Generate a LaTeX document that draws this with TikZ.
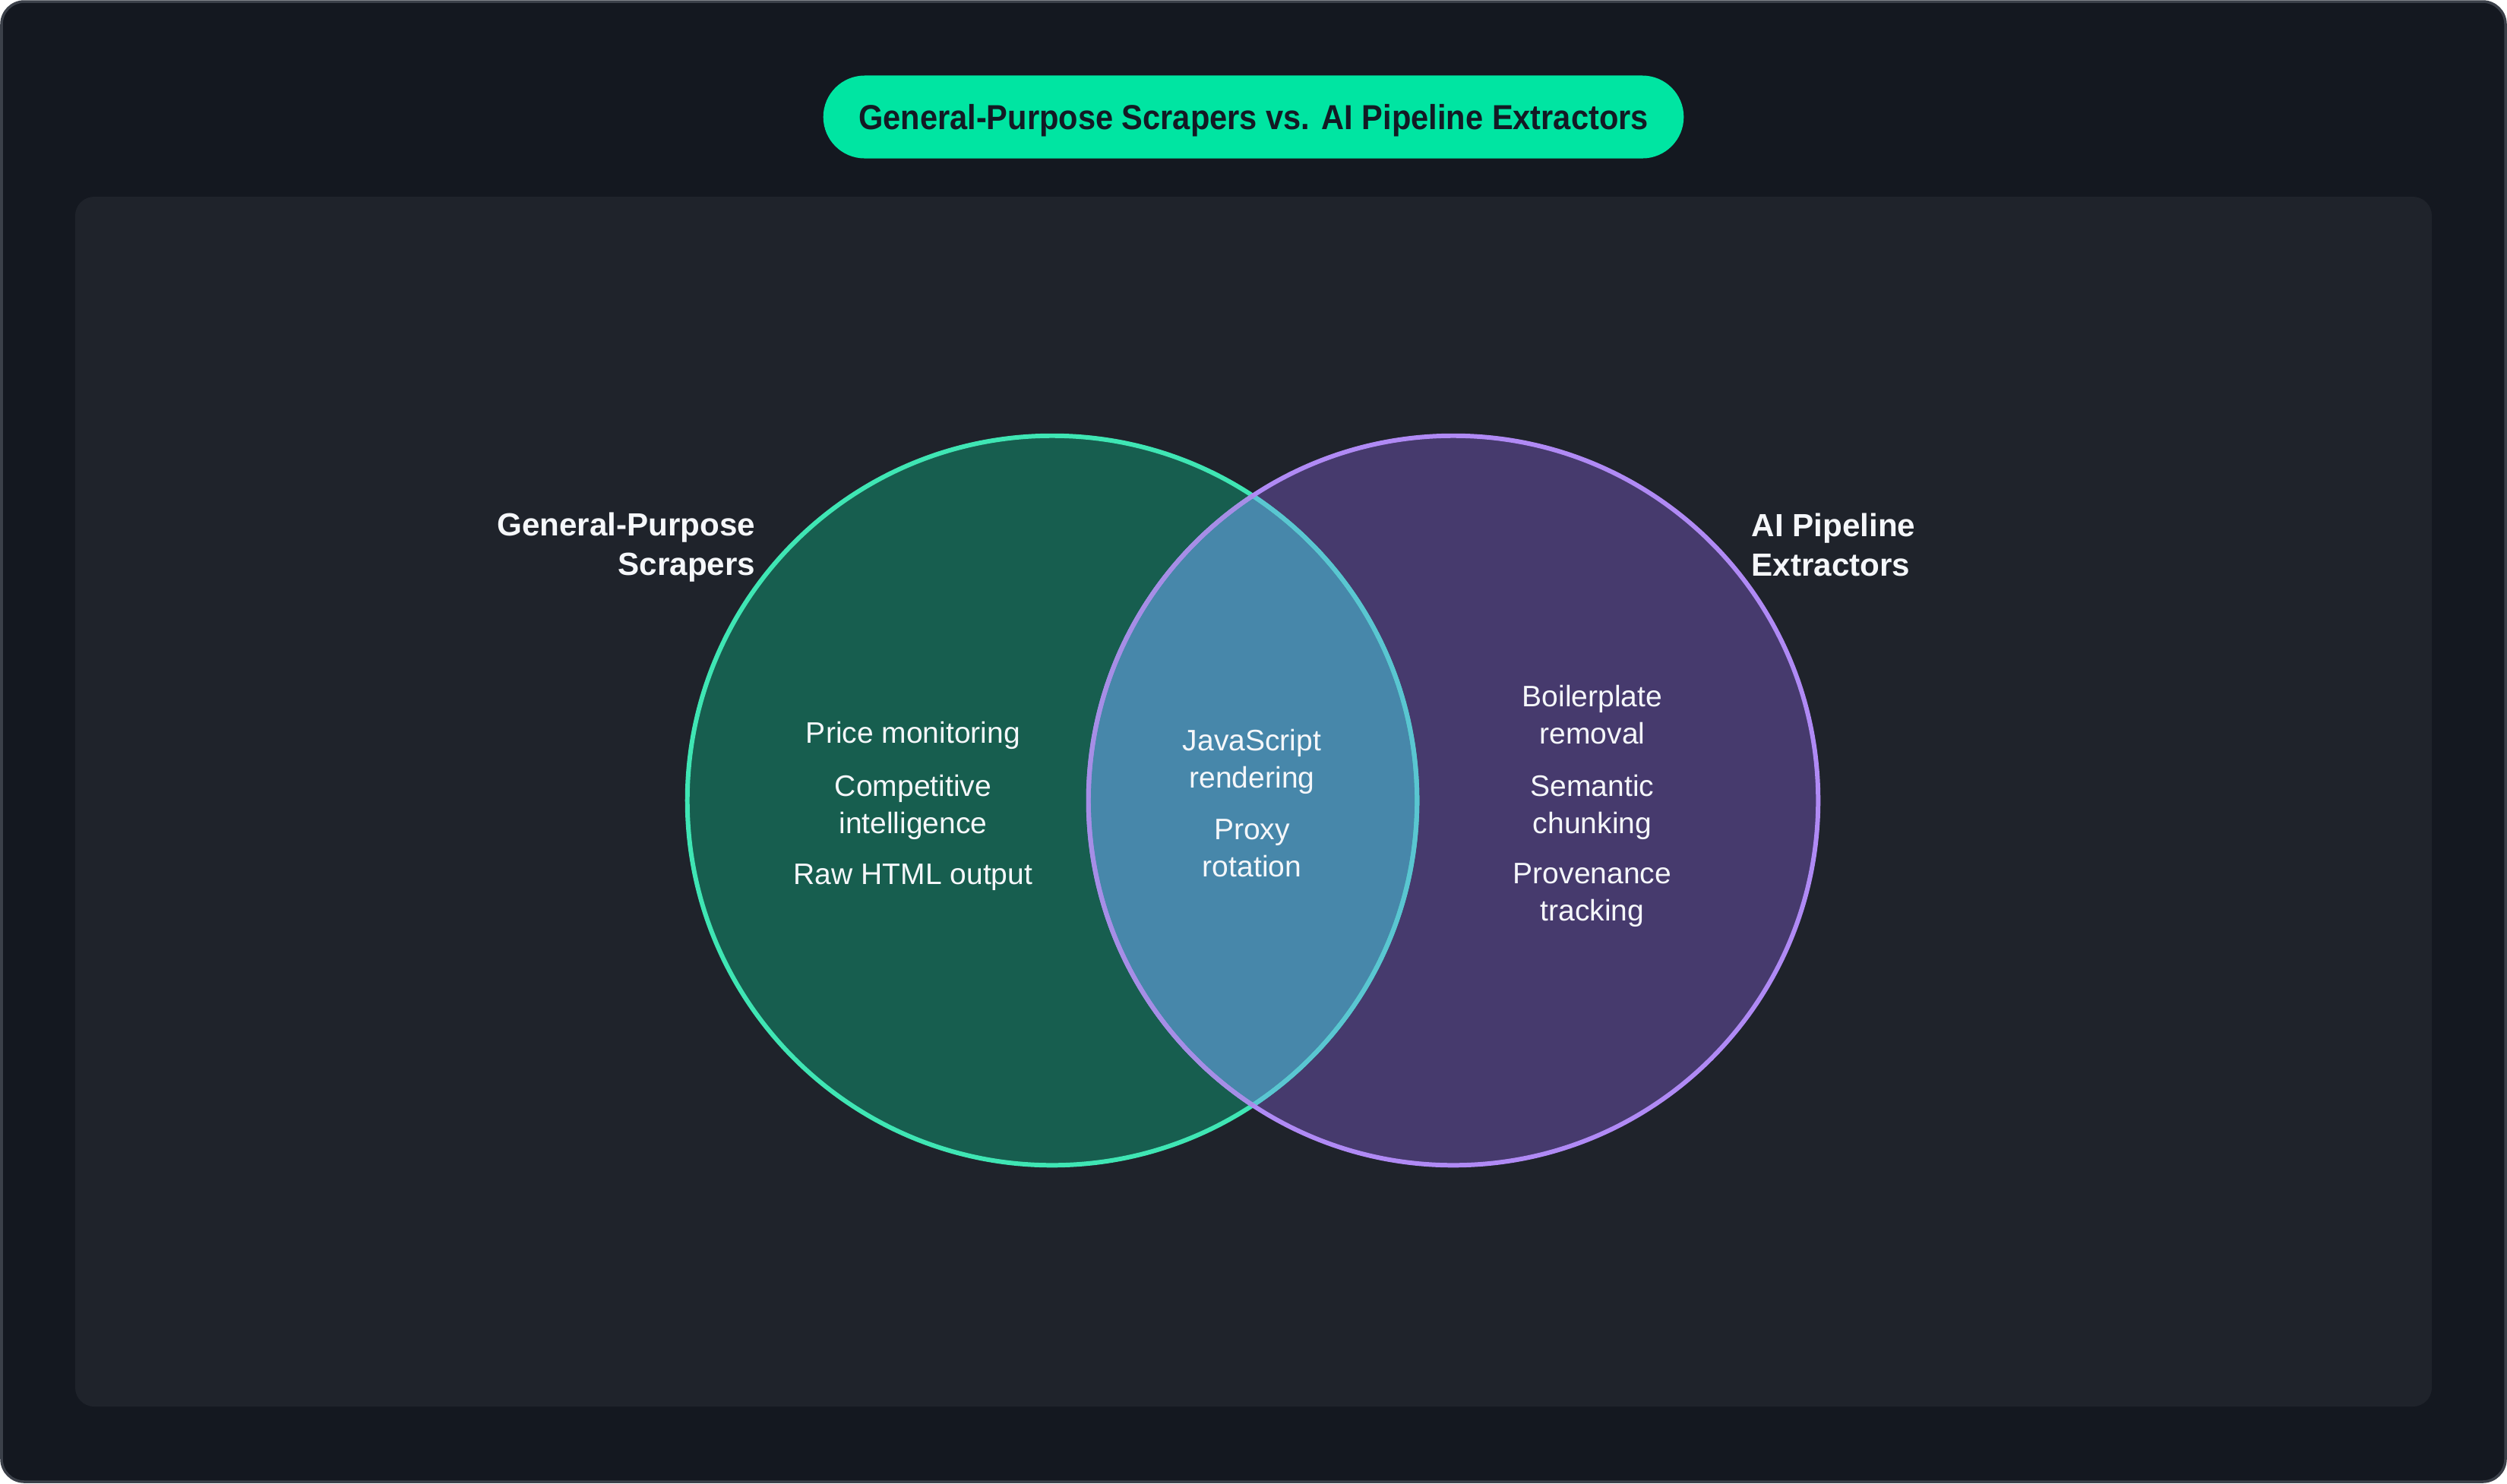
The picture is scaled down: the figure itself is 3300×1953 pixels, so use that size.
\documentclass[tikz,border=0pt]{standalone}
\usepackage{fontspec}
\setmainfont{Liberation Sans}
\newfontfamily\titlefont[FakeStretch=0.91]{Liberation Sans}

\definecolor{framebg}{HTML}{141820}
\definecolor{frameline}{HTML}{3B4049}
\definecolor{panelbg}{HTML}{1F232B}
\definecolor{pillfill}{HTML}{00E5A2}
\definecolor{pilltext}{HTML}{131A24}
\definecolor{gpfill}{HTML}{175E4F}
\definecolor{gpline}{HTML}{3FE6B4}
\definecolor{aifill}{HTML}{463A6D}
\definecolor{ailine}{HTML}{B08AF5}
\definecolor{lensfill}{HTML}{4787AA}
\definecolor{lensgp}{HTML}{5AC6D2}
\definecolor{lensai}{HTML}{A68EE6}
\definecolor{txt}{HTML}{F5F7FA}

\tikzset{
  setlabel/.style={font=\fontsize{12}{14.8}\selectfont\bfseries, text=txt, inner sep=0pt},
  item/.style={font=\fontsize{11.1}{13.9}\selectfont, text=txt, align=center, inner sep=0pt},
  pill/.style={rounded corners=0.545cm, fill=pillfill, minimum width=11.32cm, minimum height=1.09cm,
    text depth=0pt, font=\titlefont\fontsize{13}{15}\selectfont\bfseries, text=pilltext}
}

\begin{document}
\begin{tikzpicture}[x=0.01cm, y=-0.01cm]
  \def\rad{4.8cm}
  \def\ring{1.7pt}

  % Frame and panel
  \useasboundingbox (0,0) rectangle (3300,1953);
  \draw[fill=framebg, draw=frameline, line width=1pt, rounded corners=0.3cm] (2,2) rectangle (3298,1951);
  \fill[panelbg, rounded corners=0.25cm] (99,259) rectangle (3201,1852);

  % Title
  \node[pill] (title) at (1650,154) {General-Purpose Scrapers vs. AI Pipeline Extractors};

  % Circle centres
  \coordinate (gpc) at (1385,1054);
  \coordinate (aic) at (1913,1054);

  % Fills
  \fill[gpfill] (gpc) circle (\rad);
  \fill[aifill] (aic) circle (\rad);
  \begin{scope}
    \clip (gpc) circle (\rad);
    \fill[lensfill] (aic) circle (\rad);
  \end{scope}

  % Outlines
  \draw[gpline, line width=\ring] (gpc) circle (\rad);
  \begin{scope}
    \clip (aic) circle (\rad);
    \draw[lensgp, line width=\ring] (gpc) circle (\rad);
  \end{scope}
  \draw[ailine, line width=\ring] (aic) circle (\rad);
  \begin{scope}
    \clip (gpc) circle (\rad);
    \draw[lensai, line width=\ring] (aic) circle (\rad);
  \end{scope}

  % Set labels
  \node[setlabel, anchor=east, align=right] (gplabel) at (995,721) {General-Purpose\\Scrapers};
  \node[setlabel, anchor=west, align=left] (ailabel) at (2305,717) {AI Pipeline\\Extractors};

  % General-purpose only
  \node[item] (price) at (1202,968) {Price monitoring};
  \node[item] (compet) at (1202,1063) {Competitive\\intelligence};
  \node[item] (rawhtml) at (1202,1155) {Raw HTML output};

  % Shared
  \node[item] (jsrender) at (1648,1003) {JavaScript\\rendering};
  \node[item] (proxy) at (1648,1117) {Proxy\\rotation};

  % AI pipeline only
  \node[item] (boiler) at (2096,941) {Boilerplate\\removal};
  \node[item] (chunk) at (2096,1063) {Semantic\\chunking};
  \node[item] (proven) at (2096,1179) {Provenance\\tracking};
\end{tikzpicture}
\end{document}
